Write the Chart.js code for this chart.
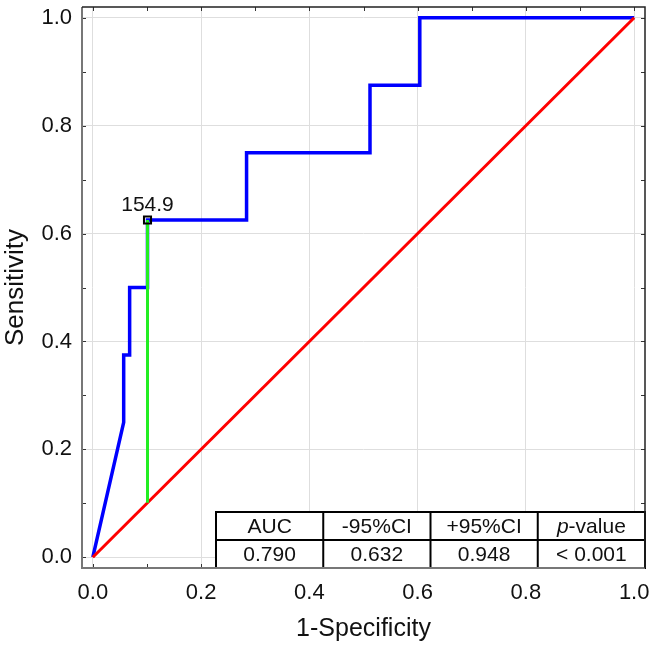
<!DOCTYPE html>
<html>
<head>
<meta charset="utf-8">
<title>ROC curve</title>
<script src="https://cdn.jsdelivr.net/npm/chart.js@4.4.1/dist/chart.umd.min.js"></script>
<style>
    body { margin: 0; background: #fff; }
    #wrap { width: 653px; height: 648px; }
</style>
</head>
<body>
<div id="wrap"><canvas id="roc-chart" width="653" height="648"></canvas></div>
<script>
// ROC curve
const rocFpr = [0, 0.057, 0.057, 0.068, 0.068, 0.101, 0.101, 0.284, 0.284, 0.512, 0.512, 0.604, 0.604, 1.0];
const rocTpr = [0, 0.25, 0.375, 0.375, 0.5, 0.5, 0.625, 0.625, 0.75, 0.75, 0.875, 0.875, 1.0, 1.0];

// reference diagonal
const diagX = [0, 1];
const diagY = [0, 1];

// cut-off point
const cutoffX = 0.101;
const cutoffY = 0.625;
const cutoffLabel = '154.9';

const tickValues = [0, 0.2, 0.4, 0.6, 0.8, 1.0];
const minorTicks = [0, 0.1, 0.2, 0.3, 0.4, 0.5, 0.6, 0.7, 0.8, 0.9, 1.0];

const tableHeaders = ['AUC', '-95%CI', '+95%CI', 'p-value'];
const tableValues = ['0.790', '0.632', '0.948', '< 0.001'];

const FONT = "'Liberation Sans', Arial, sans-serif";
const TABLE_FONT = '21px ' + FONT;

function toPoints(xs, ys) {
    return xs.map((x, i) => ({ x: x, y: ys[i] }));
}

// inward ticks, box and the stats table
const framePlugin = {
    id: 'frame',
    afterDraw(chart) {
        const ctx = chart.ctx;
        const area = chart.chartArea;
        const xs = chart.scales.x;
        const ys = chart.scales.y;
        ctx.save();

        // minor/major ticks on all four sides
        ctx.strokeStyle = '#333';
        ctx.lineWidth = 1;
        minorTicks.forEach(v => {
            const px = Math.round(xs.getPixelForValue(v)) + 0.5;
            const py = Math.round(ys.getPixelForValue(v)) + 0.5;
            ctx.beginPath();
            ctx.moveTo(px, area.bottom); ctx.lineTo(px, area.bottom - 4);
            ctx.moveTo(px, area.top); ctx.lineTo(px, area.top + 4);
            ctx.moveTo(area.left, py); ctx.lineTo(area.left + 4, py);
            ctx.moveTo(area.right, py); ctx.lineTo(area.right - 4, py);
            ctx.stroke();
        });

        // cut-off label
        const cx = xs.getPixelForValue(cutoffX);
        const cy = ys.getPixelForValue(cutoffY);
        ctx.fillStyle = '#111';
        ctx.font = '21px ' + FONT;
        ctx.textAlign = 'center';
        ctx.textBaseline = 'alphabetic';
        ctx.fillText(cutoffLabel, cx, cy - 9);

        // table in the lower right corner
        const tw = 429, th = 56;
        const tx = area.right - tw, ty = area.bottom - th;
        const colW = tw / tableHeaders.length;
        ctx.fillStyle = '#fff';
        ctx.fillRect(tx, ty, tw, th);
        ctx.strokeStyle = '#000';
        ctx.lineWidth = 2;
        ctx.strokeRect(tx, ty, tw, th);
        ctx.beginPath();
        ctx.moveTo(tx, ty + th / 2); ctx.lineTo(tx + tw, ty + th / 2);
        for (let i = 1; i < tableHeaders.length; i++) {
            ctx.moveTo(tx + colW * i, ty); ctx.lineTo(tx + colW * i, ty + th);
        }
        ctx.stroke();

        ctx.fillStyle = '#111';
        ctx.textBaseline = 'middle';
        tableHeaders.forEach((h, i) => {
            const mx = tx + colW * (i + 0.5);
            const my = ty + th / 4 + 1;
            if (h.startsWith('p-')) {
                // italic p
                ctx.font = 'italic ' + TABLE_FONT;
                const w1 = ctx.measureText('p').width;
                ctx.font = TABLE_FONT;
                const w2 = ctx.measureText(h.slice(1)).width;
                const sx = mx - (w1 + w2) / 2;
                ctx.textAlign = 'left';
                ctx.font = 'italic ' + TABLE_FONT;
                ctx.fillText('p', sx, my);
                ctx.font = TABLE_FONT;
                ctx.fillText(h.slice(1), sx + w1, my);
            } else {
                ctx.font = TABLE_FONT;
                ctx.textAlign = 'center';
                ctx.fillText(h, mx, my);
            }
        });
        ctx.font = TABLE_FONT;
        ctx.textAlign = 'center';
        tableValues.forEach((v, i) => {
            ctx.fillText(v, tx + colW * (i + 0.5), ty + th * 3 / 4 + 1);
        });

        // plot box
        ctx.lineWidth = 2;
        ctx.strokeStyle = '#777';
        ctx.beginPath();
        ctx.moveTo(area.left, area.top); ctx.lineTo(area.left, area.bottom); ctx.lineTo(area.right, area.bottom);
        ctx.stroke();
        ctx.lineWidth = 1.5;
        ctx.strokeStyle = '#222';
        ctx.beginPath();
        ctx.moveTo(area.left, area.top); ctx.lineTo(area.right, area.top); ctx.lineTo(area.right, area.bottom);
        ctx.stroke();
        ctx.restore();
    }
};

const ctx = document.getElementById('roc-chart').getContext('2d');

new Chart(ctx, {
    type: 'scatter',
    data: {
        datasets: [
            {
                label: 'cutoff',
                data: [{ x: cutoffX, y: cutoffY }],
                pointStyle: 'rect',
                pointRadius: 5,
                pointBorderWidth: 2,
                pointBorderColor: '#000',
                pointBackgroundColor: 'rgba(0,0,0,0)',
                showLine: false,
                order: 0
            },
            {
                label: 'cutoff line',
                data: toPoints([cutoffX, cutoffX], [cutoffX, cutoffY]),
                showLine: true,
                borderColor: '#22ee22',
                borderWidth: 3,
                pointRadius: 0,
                order: 1
            },
            {
                label: 'diagonal',
                data: toPoints(diagX, diagY),
                showLine: true,
                borderColor: '#ff0000',
                borderWidth: 3,
                pointRadius: 0,
                order: 2
            },
            {
                label: 'ROC',
                data: toPoints(rocFpr, rocTpr),
                showLine: true,
                borderColor: '#0000ff',
                borderWidth: 3.5,
                pointRadius: 0,
                order: 3
            }
        ]
    },
    options: {
        responsive: false,
        animation: false,
        layout: { padding: { top: 5, right: 8, left: 0, bottom: 0 } },
        plugins: {
            legend: { display: false },
            tooltip: { enabled: false }
        },
        scales: {
            x: {
                type: 'linear',
                min: -0.02,
                max: 1.02,
                afterBuildTicks: scale => { scale.ticks = tickValues.map(v => ({ value: v })); },
                afterFit: scale => {
                    scale.height = 80;
                    scale.paddingLeft = 0;
                    scale.paddingRight = 0;
                },
                grid: { color: '#dedede', lineWidth: 1, drawTicks: false },
                border: { display: false },
                ticks: {
                    padding: 12,
                    color: '#111',
                    font: { family: FONT, size: 22 },
                    callback: v => v.toFixed(1)
                },
                title: {
                    display: true,
                    text: '1-Specificity',
                    color: '#111',
                    font: { family: FONT, size: 25 },
                    padding: { top: 0, bottom: 4 }
                }
            },
            y: {
                type: 'linear',
                min: -0.02,
                max: 1.02,
                afterBuildTicks: scale => { scale.ticks = tickValues.map(v => ({ value: v })); },
                afterFit: scale => {
                    scale.width = 82;
                    scale.paddingTop = 0;
                    scale.paddingBottom = 0;
                },
                grid: { color: '#dedede', lineWidth: 1, drawTicks: false },
                border: { display: false },
                ticks: {
                    padding: 10,
                    color: '#111',
                    font: { family: FONT, size: 22 },
                    callback: v => v.toFixed(1)
                },
                title: {
                    display: true,
                    text: 'Sensitivity',
                    color: '#111',
                    font: { family: FONT, size: 26 },
                    padding: { top: 0, bottom: 0 }
                }
            }
        }
    },
    plugins: [framePlugin]
});
</script>
</body>
</html>
